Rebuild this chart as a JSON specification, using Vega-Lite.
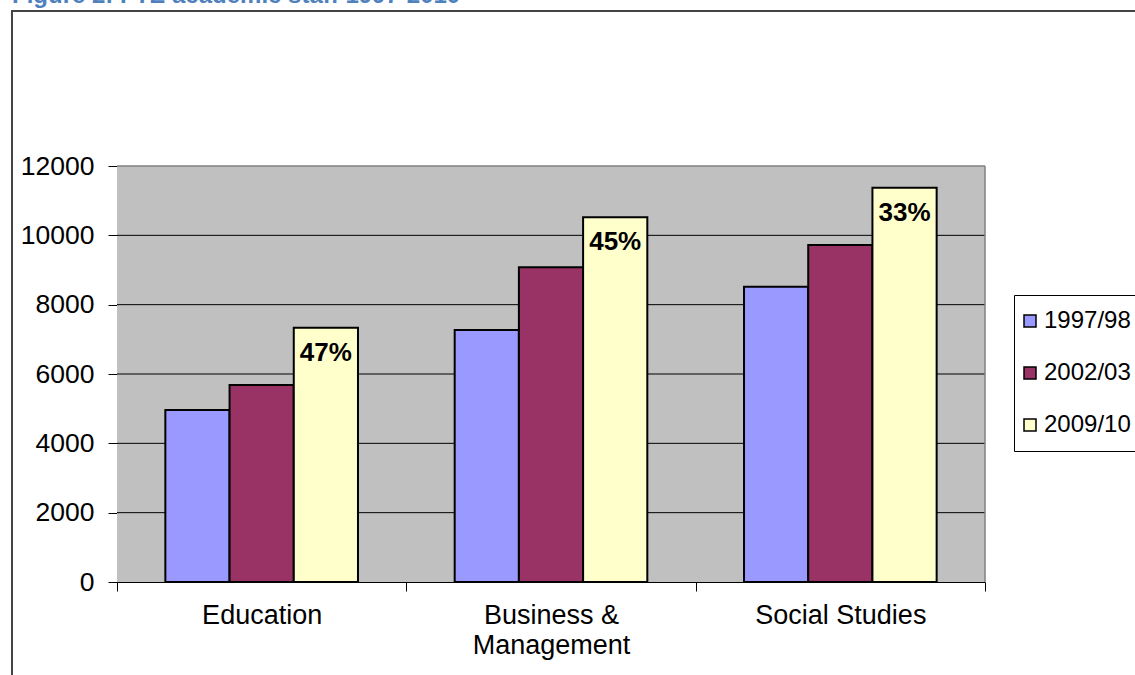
{
  "$schema": "https://vega.github.io/schema/vega-lite/v6.json",
  "width": 1140,
  "height": 680,
  "autosize": {"type": "none"},
  "padding": {"left": 12, "top": 11, "right": 0, "bottom": 0},
  "background": "white",
  "title": {
    "text": "Figure 2: FTE academic staff 1997-2010",
    "anchor": "start",
    "frame": "group",
    "font": "Liberation Sans",
    "fontSize": 24,
    "fontWeight": "bold",
    "color": "#4F81BD",
    "baseline": "alphabetic",
    "offset": 0,
    "dy": 16
  },
  "config": {
    "view": {"stroke": "#444444", "strokeWidth": 2, "fill": "white"},
    "font": "Liberation Sans"
  },
  "datasets": {
    "staff": [
      {"category": "Education", "year": "1997/98", "staff": 4960},
      {"category": "Education", "year": "2002/03", "staff": 5685},
      {"category": "Education", "year": "2009/10", "staff": 7335, "label": "47%"},
      {"category": "Business & Management", "year": "1997/98", "staff": 7270},
      {"category": "Business & Management", "year": "2002/03", "staff": 9080},
      {"category": "Business & Management", "year": "2009/10", "staff": 10520, "label": "45%"},
      {"category": "Social Studies", "year": "1997/98", "staff": 8515},
      {"category": "Social Studies", "year": "2002/03", "staff": 9720},
      {"category": "Social Studies", "year": "2009/10", "staff": 11375, "label": "33%"}
    ],
    "gridlines": [
      {"tick": 2000}, {"tick": 4000}, {"tick": 6000}, {"tick": 8000}, {"tick": 10000}
    ],
    "one": [{"frame": "plot"}]
  },
  "data": {"name": "staff"},
  "layer": [
    {
      "data": {"name": "one"},
      "mark": {"type": "rect", "fill": "#C0C0C0"},
      "encoding": {
        "x": {"datum": "Education", "type": "nominal", "bandPosition": 0,
              "scale": {"domain": ["Education", "Business & Management", "Social Studies"], "range": [105, 973], "paddingInner": 0, "paddingOuter": 0}},
        "x2": {"datum": "Social Studies", "bandPosition": 1},
        "y": {"datum": 0, "type": "quantitative",
              "scale": {"domain": [0, 12000], "range": [571, 155], "nice": false, "zero": true}},
        "y2": {"datum": 12000}
      }
    },
    {
      "data": {"name": "gridlines"},
      "mark": {"type": "rule", "color": "black", "strokeWidth": 1},
      "encoding": {
        "x": {"datum": "Education", "type": "nominal", "bandPosition": 0,
              "scale": {"domain": ["Education", "Business & Management", "Social Studies"], "range": [105, 973], "paddingInner": 0, "paddingOuter": 0}},
        "x2": {"datum": "Social Studies", "bandPosition": 1},
        "y": {"field": "tick", "type": "quantitative",
              "scale": {"domain": [0, 12000], "range": [571, 155], "nice": false, "zero": true}}
      }
    },
    {
      "data": {"name": "one"},
      "mark": {"type": "rule", "color": "#808080", "strokeWidth": 1.5},
      "encoding": {
        "x": {"datum": "Education", "type": "nominal", "bandPosition": 0,
              "scale": {"domain": ["Education", "Business & Management", "Social Studies"], "range": [105, 973], "paddingInner": 0, "paddingOuter": 0}},
        "x2": {"datum": "Social Studies", "bandPosition": 1},
        "y": {"datum": 12000, "type": "quantitative",
              "scale": {"domain": [0, 12000], "range": [571, 155], "nice": false, "zero": true}}
      }
    },
    {
      "data": {"name": "one"},
      "mark": {"type": "rule", "color": "#808080", "strokeWidth": 1.5},
      "encoding": {
        "x": {"datum": "Social Studies", "type": "nominal", "bandPosition": 1,
              "scale": {"domain": ["Education", "Business & Management", "Social Studies"], "range": [105, 973], "paddingInner": 0, "paddingOuter": 0}},
        "y": {"datum": 0, "type": "quantitative",
              "scale": {"domain": [0, 12000], "range": [571, 155], "nice": false, "zero": true}},
        "y2": {"datum": 12000}
      }
    },
    {
      "mark": {"type": "bar", "stroke": "black", "strokeWidth": 2},
      "encoding": {
        "x": {
          "field": "category", "type": "nominal",
          "scale": {"domain": ["Education", "Business & Management", "Social Studies"], "range": [105, 973], "paddingInner": 0, "paddingOuter": 0},
          "axis": {
            "orient": "bottom", "offset": -109, "title": null,
            "tickBand": "extent", "labelAngle": 0, "labelAlign": "center",
            "domainColor": "black", "domainWidth": 1,
            "tickColor": "black", "tickSize": 9, "tickWidth": 1,
            "labelFont": "Liberation Sans", "labelFontSize": 27, "labelColor": "black",
            "labelPadding": 24, "labelLineHeight": 30, "labelLimit": 400,
            "labelExpr": "datum.value == 'Business & Management' ? ['Business &', 'Management'] : datum.value"
          }
        },
        "xOffset": {
          "field": "year", "type": "nominal",
          "scale": {"domain": ["1997/98", "2002/03", "2009/10"], "paddingInner": 0, "paddingOuter": 0.753}
        },
        "y": {
          "field": "staff", "type": "quantitative",
          "scale": {"domain": [0, 12000], "range": [571, 155], "nice": false, "zero": true},
          "axis": {
            "orient": "left", "offset": -105, "title": null, "grid": false,
            "values": [0, 2000, 4000, 6000, 8000, 10000, 12000], "format": "d",
            "domainColor": "black", "domainWidth": 1,
            "tickColor": "black", "tickSize": 9, "tickWidth": 1,
            "labelFont": "Liberation Sans", "labelFontSize": 26.5, "labelColor": "black",
            "labelPadding": 14
          }
        },
        "color": {
          "field": "year", "type": "nominal",
          "scale": {"domain": ["1997/98", "2002/03", "2009/10"], "range": ["#9999FF", "#993366", "#FFFFCC"]},
          "legend": {
            "orient": "none", "legendX": 1002, "legendY": 284, "title": null,
            "strokeColor": "black", "fillColor": "white", "padding": 14, "rowPadding": 28,
            "symbolType": "square", "symbolSize": 144, "symbolStrokeColor": "black", "symbolStrokeWidth": 1.5,
            "symbolOffset": -10,
            "labelFont": "Liberation Sans", "labelFontSize": 24, "labelColor": "black", "labelOffset": 2
          }
        }
      }
    },
    {
      "transform": [{"filter": "datum.label != null"}],
      "mark": {"type": "text", "baseline": "alphabetic", "dy": 33, "font": "Liberation Sans", "fontSize": 26, "fontWeight": "bold", "color": "black"},
      "encoding": {
        "x": {"field": "category", "type": "nominal",
              "scale": {"domain": ["Education", "Business & Management", "Social Studies"], "range": [105, 973], "paddingInner": 0, "paddingOuter": 0}},
        "xOffset": {"field": "year", "type": "nominal",
              "scale": {"domain": ["1997/98", "2002/03", "2009/10"], "paddingInner": 0, "paddingOuter": 0.753}},
        "y": {"field": "staff", "type": "quantitative",
              "scale": {"domain": [0, 12000], "range": [571, 155], "nice": false, "zero": true}},
        "text": {"field": "label"}
      }
    }
  ]
}
